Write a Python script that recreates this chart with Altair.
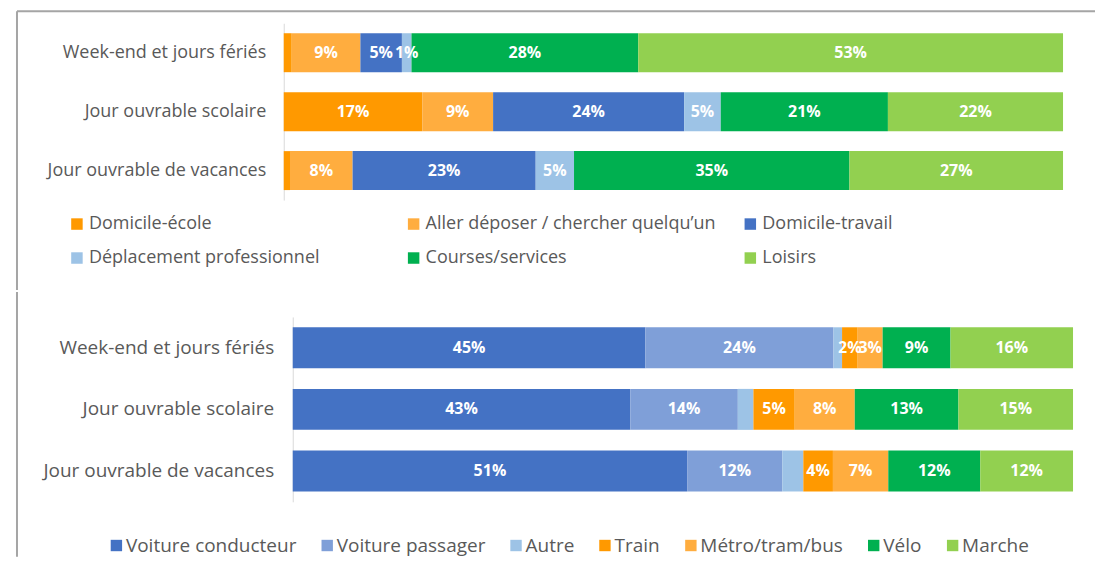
import altair as alt
import pandas as pd

FONT = "Open Sans"

days = ["Week-end et jours fériés", "Jour ouvrable scolaire", "Jour ouvrable de vacances"]

motifs = ["Domicile-école", "Aller déposer / chercher quelqu’un", "Domicile-travail",
          "Déplacement professionnel", "Courses/services", "Loisirs"]
motif_we = [1.0, 8.6, 5.2, 1.2, 28.4, 53.2]
motif_sco = [17.4, 8.9, 24.0, 4.6, 21.0, 22.0]
motif_vac = [0.8, 8.0, 23.4, 4.9, 35.2, 27.3]
motif_colors = ["#FF9900", "#FFAD3F", "#4472C4", "#9DC3E6", "#00B050", "#92D050"]

modes = ["Voiture conducteur", "Voiture passager", "Autre", "Train",
         "Métro/tram/bus", "Vélo", "Marche"]
mode_we = [45.2, 24.1, 1.1, 2.0, 3.2, 8.7, 15.7]
mode_sco = [43.3, 13.8, 2.0, 5.3, 7.7, 13.3, 14.7]
mode_vac = [50.6, 12.2, 2.7, 3.8, 7.1, 11.8, 11.9]
mode_colors = ["#4472C4", "#7F9FD8", "#9DC3E6", "#FF9900", "#FFAD3F", "#00B050", "#92D050"]


def build(cats, series):
    rows = []
    for day, vals in zip(days, series):
        for k, (c, v) in enumerate(zip(cats, vals)):
            rows.append({"day": day, "cat": c, "k": k, "value": v})
    return pd.DataFrame(rows)


def panel(df, cats, colors, show_expr, w, h, pad_inner, label_pad, label_size,
          x_range, axis_offset, legend):
    base = alt.Chart(df).transform_stack(
        stack="value", groupby=["day"], as_=["v0", "v1"],
        sort=[alt.SortField("k", order="ascending")], offset="normalize"
    ).transform_calculate(
        mid="(datum.v0 + datum.v1) / 2",
        lab="format(datum.value, '.0f') + '%'",
    )
    y = alt.Y("day:N", sort=days, title=None,
              scale=alt.Scale(paddingInner=pad_inner, paddingOuter=pad_inner / 2),
              axis=alt.Axis(ticks=False, labelPadding=label_pad, labelFontSize=label_size,
                            labelColor="#595959", labelFont=FONT, labelLimit=400,
                            offset=axis_offset,
                            domainColor="#D9D9D9", domainWidth=1))
    bars = base.mark_bar().encode(
        x=alt.X("v0:Q", scale=alt.Scale(domain=[0, 1], nice=False, range=x_range), axis=None),
        x2="v1:Q",
        y=y,
        color=alt.Color("cat:N", scale=alt.Scale(domain=cats, range=colors), legend=legend),
    )
    text = base.transform_filter(show_expr).mark_text(
        color="white", fontWeight="bold", fontSize=16, font=FONT
    ).encode(x="mid:Q", y=alt.Y("day:N", sort=days), text="lab:N")
    return alt.layer(bars, text).properties(width=w, height=h)


leg_top = alt.Legend(title=None, orient="none", legendX=-216, legendY=192, columns=3,
                     direction="horizontal",
                     symbolType="square", symbolSize=132, symbolStrokeWidth=0,
                     labelOffset=3,
                     labelFontSize=18, labelColor="#595959", labelFont=FONT,
                     labelLimit=400, columnPadding=25, rowPadding=16, gridAlign="all")
leg_bot = alt.Legend(title=None, orient="none", legendX=-177, legendY=219, columns=7,
                     direction="horizontal",
                     symbolType="square", symbolSize=130, symbolStrokeWidth=0,
                     labelOffset=0,
                     labelFontSize=19, labelColor="#595959", labelFont=FONT,
                     labelLimit=400, columnPadding=21, gridAlign="each")

one = pd.DataFrame({"a": [0]})
frame_top = alt.Chart(one).mark_rule(color="#A5A5A5", strokeWidth=2).encode(
    x=alt.value(-267), x2=alt.value(812), y=alt.value(-12))
frame_left1 = alt.Chart(one).mark_rule(color="#A5A5A5", strokeWidth=2).encode(
    x=alt.value(-267), y=alt.value(-12), y2=alt.value(267))
frame_left2 = alt.Chart(one).mark_rule(color="#A5A5A5", strokeWidth=2).encode(
    x=alt.value(-267), y=alt.value(-25), y2=alt.value(240))

top = alt.layer(
    panel(build(motifs, [motif_we, motif_sco, motif_vac]), motifs, motif_colors,
          "datum.value >= 1.1", 780, 177, 0.339, 18, 18, [0, 780], 0, leg_top),
    frame_top, frame_left1)
bottom = alt.layer(
    panel(build(modes, [mode_we, mode_sco, mode_vac]), modes, mode_colors,
          "datum.cat != 'Autre'", 790, 185, 0.335, 19, 19, [9, 790], -9, leg_bot),
    frame_left2)

chart = alt.concat(top, bottom, columns=1, spacing=0).resolve_scale(color="independent").properties(
    padding={"left": 8, "top": 2, "right": 0, "bottom": 0}
).configure_view(stroke=None)

chart.save("out.html", embed_options={"renderer": "svg", "actions": False})
